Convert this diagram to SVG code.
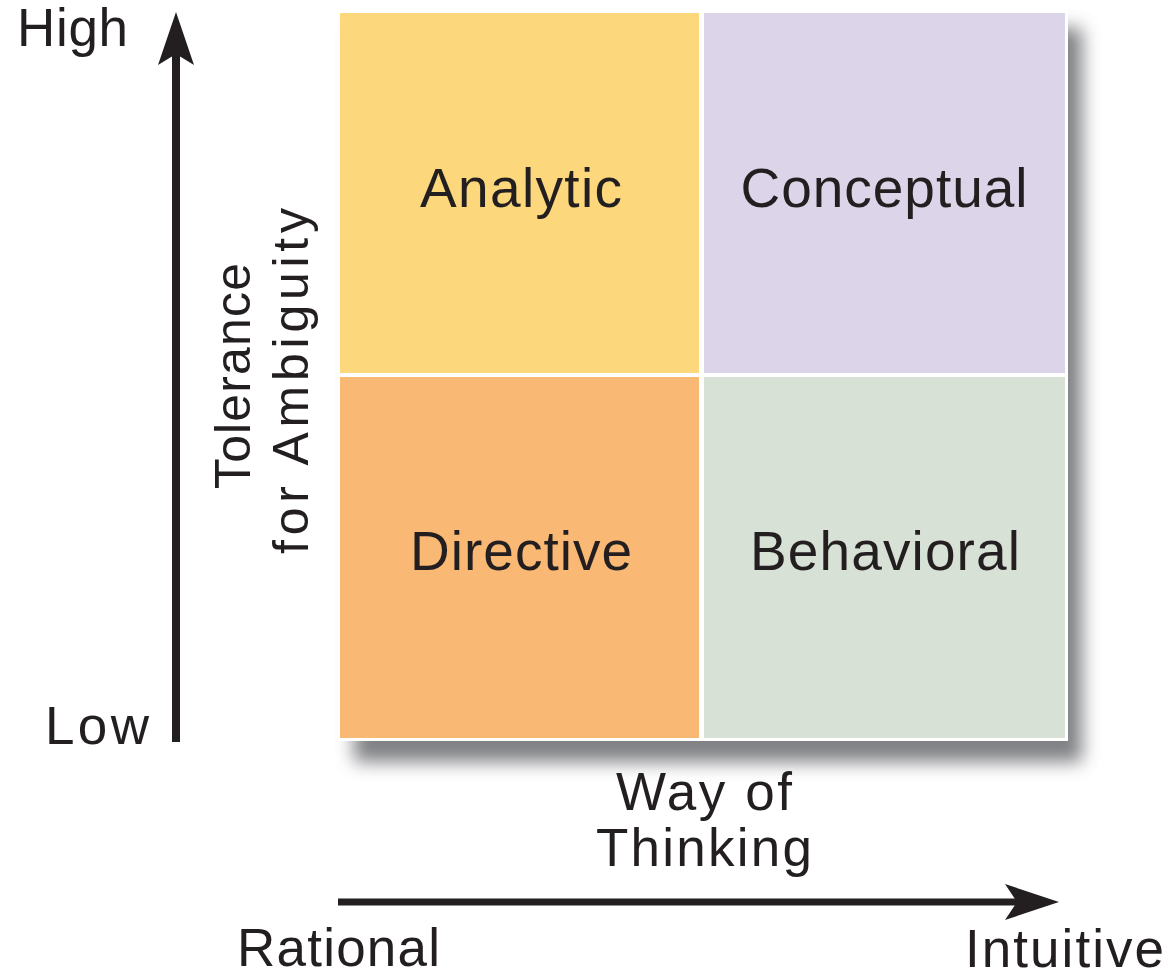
<svg xmlns="http://www.w3.org/2000/svg" width="1174" height="976" viewBox="0 0 1174 976">
<style>
text{font-family:"Liberation Sans",Arial,sans-serif;font-size:53px;fill:#231f20}
.m{text-anchor:middle}
.q{font-size:55px}
.r{font-size:50px}
</style>
<defs>
<filter id="sh" x="-10%" y="-10%" width="130%" height="130%">
<feGaussianBlur stdDeviation="9"/>
</filter>
</defs>
<rect width="1174" height="976" fill="#ffffff"/>
<rect x="354" y="28" width="728" height="734" fill="#55565c" opacity="0.75" filter="url(#sh)"/>
<rect x="337" y="10" width="731" height="731" fill="#ffffff"/>
<g id="analytic">
<rect x="340" y="13" width="359" height="360" fill="#fdd77c"/>
<text class="m q" x="521" y="207" textLength="202" lengthAdjust="spacing">Analytic</text>
</g>
<g id="conceptual">
<rect x="704" y="13" width="361" height="360" fill="#dcd4e8"/>
<text class="m q" x="884" y="207" textLength="287" lengthAdjust="spacing">Conceptual</text>
</g>
<g id="directive">
<rect x="340" y="377" width="359" height="361" fill="#f9b874"/>
<text class="m q" x="521" y="570" textLength="222" lengthAdjust="spacing">Directive</text>
</g>
<g id="behavioral">
<rect x="704" y="377" width="361" height="361" fill="#d7e1d5"/>
<text class="m q" x="885" y="570" textLength="270" lengthAdjust="spacing">Behavioral</text>
</g>
<g id="connectors">
<line x1="176" y1="742" x2="176" y2="50" stroke="#231f20" stroke-width="8"/>
<path d="M176 12 L158 65 L176 54 L194 65 Z" fill="#231f20"/>
<line x1="338" y1="902" x2="1020" y2="902" stroke="#231f20" stroke-width="7"/>
<path d="M1059 902 L1005 884 L1017 902 L1005 920 Z" fill="#231f20"/>
</g>
<g id="labels">
<text x="17" y="46" textLength="111" lengthAdjust="spacing">High</text>
<text x="45" y="744" textLength="104" lengthAdjust="spacing">Low</text>
<text class="m r" transform="translate(250 376) rotate(-90)" x="0" y="0" textLength="226" lengthAdjust="spacing">Tolerance</text>
<text class="m r" transform="translate(308 381) rotate(-90)" x="0" y="0" textLength="346" lengthAdjust="spacing">for Ambiguity</text>
<text class="m" x="704" y="810" textLength="176" lengthAdjust="spacing">Way of</text>
<text class="m" x="704" y="866" textLength="216" lengthAdjust="spacing">Thinking</text>
<text x="237" y="966" textLength="203" lengthAdjust="spacing">Rational</text>
<text x="965" y="967" textLength="199" lengthAdjust="spacing">Intuitive</text>
</g>
</svg>
